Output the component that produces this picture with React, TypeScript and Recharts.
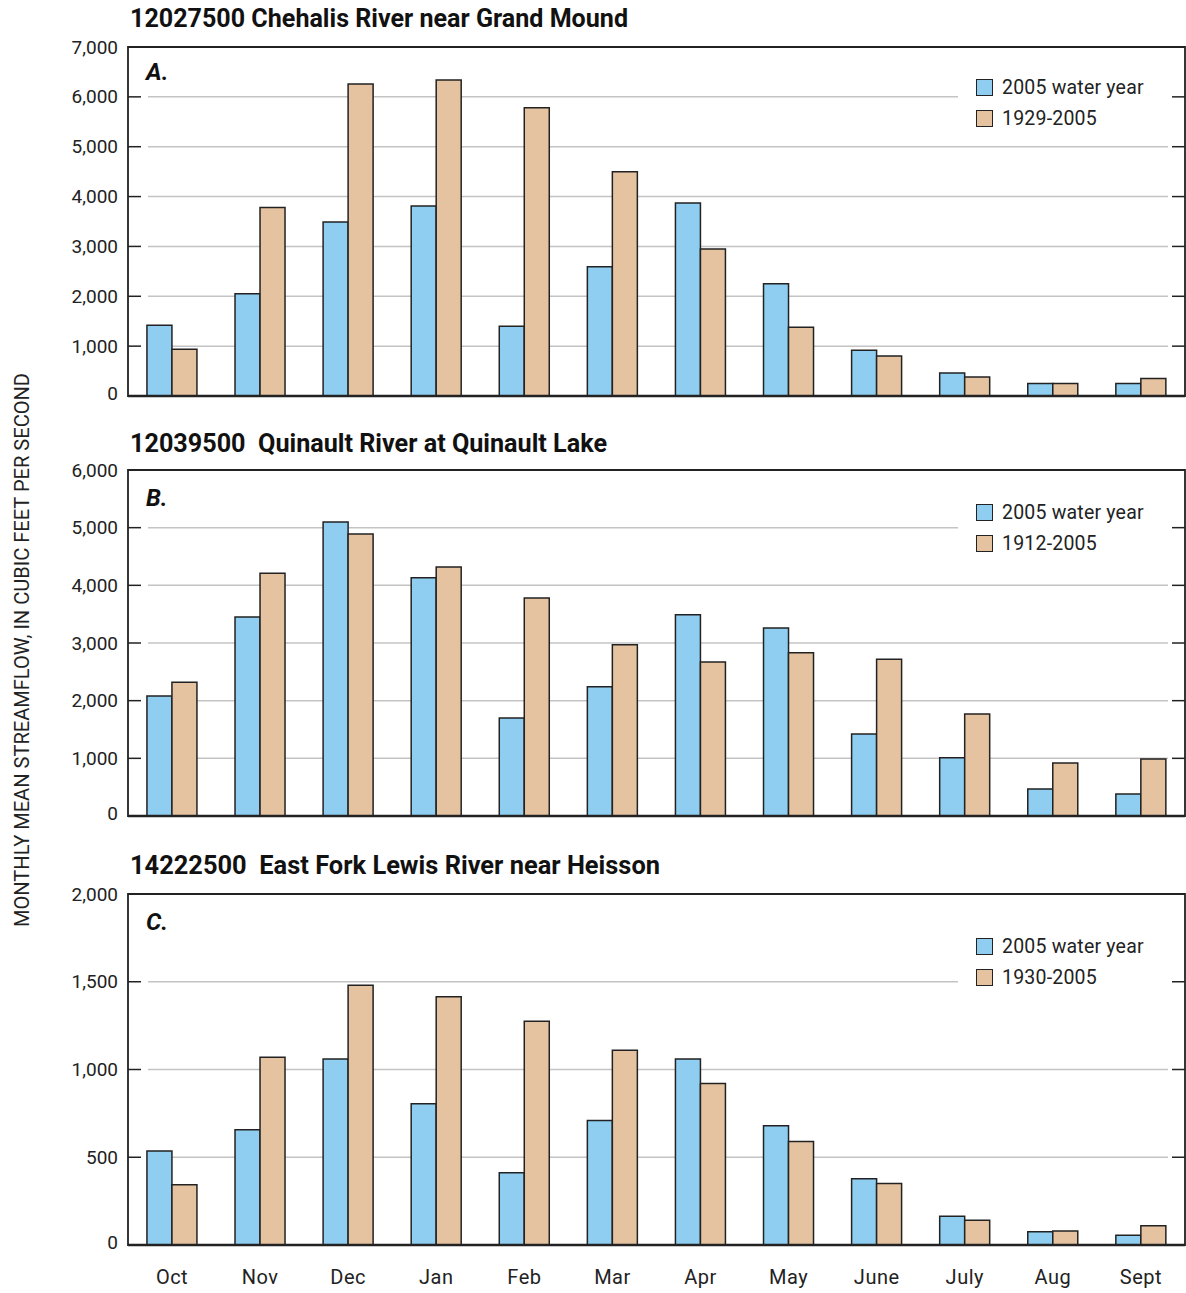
import React from 'react';
import {
  BarChart, Bar, XAxis, YAxis, CartesianGrid, Legend, ReferenceArea, ReferenceLine,
} from 'recharts';

const FONT = 'Roboto, "Liberation Sans", sans-serif';
const BLUE = '#8fcef1';
const TAN = '#e5c3a0';
const INK = '#222';

const months = ['Oct', 'Nov', 'Dec', 'Jan', 'Feb', 'Mar', 'Apr', 'May', 'June', 'July', 'Aug', 'Sept'];

const chehalis2005 = [1420, 2050, 3490, 3810, 1400, 2590, 3870, 2250, 920, 460, 250, 250];
const chehalisMean = [940, 3780, 6260, 6340, 5780, 4500, 2950, 1380, 800, 380, 250, 350];
const chehalisTicks = [0, 1000, 2000, 3000, 4000, 5000, 6000, 7000];

const quinault2005 = [2080, 3450, 5100, 4130, 1700, 2240, 3490, 3260, 1420, 1010, 470, 380];
const quinaultMean = [2320, 4210, 4890, 4320, 3780, 2970, 2670, 2830, 2720, 1770, 920, 990];
const quinaultTicks = [0, 1000, 2000, 3000, 4000, 5000, 6000];

const lewis2005 = [535, 656, 1060, 805, 412, 710, 1060, 680, 378, 164, 76, 55];
const lewisMean = [344, 1070, 1480, 1415, 1275, 1110, 920, 590, 350, 141, 80, 109];
const lewisTicks = [0, 500, 1000, 1500, 2000];

const SERIES_NAME = '2005 water year';

const toRows = (a: number[], b: number[]) => months.map((m, i) => ({ month: m, a: a[i], b: b[i] }));

const fmt = (v: number) => v.toLocaleString('en-US');

// tick label plus the short inward ticks on both sides of the box
const makeTick = (max: number) => (props: any) => {
  const { x, y, payload } = props;
  const left = x + 10;
  const v = payload.value;
  const inner = v !== 0 && v !== max;
  return (
    <g>
      <text x={x} y={v === 0 ? y - 3 : y} textAnchor="end" dominantBaseline="central" fontSize={19} fill={INK} fontFamily={FONT}>
        {fmt(v)}
      </text>
      {inner && <line x1={left} x2={left + 13} y1={y} y2={y} stroke={INK} strokeWidth={1.5} />}
      {inner && <line x1={1172} x2={1185} y1={y} y2={y} stroke={INK} strokeWidth={1.5} />}
    </g>
  );
};

const gridLine = (p: any) => (
  <line key={p.key} x1={p.x1 + 20} x2={p.x2 - 17} y1={p.y1} y2={p.y2} stroke="#c4c4c4" strokeWidth={1.5} />
);

const legendContent = (props: any) => {
  const items = [...props.payload].sort((a: any, b: any) => (a.value === SERIES_NAME ? -1 : b.value === SERIES_NAME ? 1 : 0));
  return (
    <div style={{ fontFamily: FONT, fontSize: 19.5, color: INK, letterSpacing: 0.2 }}>
      {items.map((e: any) => (
        <div key={e.value} style={{ display: 'flex', alignItems: 'center', height: 31 }}>
          <span style={{ width: 15, height: 15, background: e.color, border: `1.5px solid ${INK}`, marginRight: 9 }} />
          <span>{e.value}</span>
        </div>
      ))}
    </div>
  );
};

interface PanelProps {
  top: number; height: number; mt: number; mb: number;
  s1: number[]; s2: number[]; ticks: number[]; period: string;
  legendY: number; showX: boolean;
}

function Panel(p: PanelProps) {
  const max = p.ticks[p.ticks.length - 1];
  return (
    <div style={{ position: 'absolute', left: 0, top: p.top }}>
      <BarChart width={1186} height={p.height} data={toRows(p.s1, p.s2)}
        margin={{ top: p.mt, right: 1, left: 0, bottom: p.mb }} barCategoryGap="21.5%" barGap={0}>
        <CartesianGrid vertical={false} horizontal={gridLine} />
        <XAxis dataKey="month" hide={!p.showX} height={48} tickSize={0} tickMargin={25} axisLine={false}
          tickLine={false} tick={{ fontSize: 20, fill: INK, fontFamily: FONT, letterSpacing: 0.5 }} interval={0} />
        <YAxis width={128} domain={[0, max]} ticks={p.ticks} tickSize={0} tickMargin={10}
          axisLine={false} tickLine={false} tick={makeTick(max)} interval={0} />
        <Bar dataKey="a" name={SERIES_NAME} fill={BLUE} stroke={INK} strokeWidth={1.5} isAnimationActive={false} />
        <Bar dataKey="b" name={p.period} fill={TAN} stroke={INK} strokeWidth={1.5} isAnimationActive={false} />
        <ReferenceArea y1={0} y2={max} fill="none" stroke={INK} strokeWidth={1.8} />
        <ReferenceLine y={0} stroke={INK} strokeWidth={2.5} />
        <Legend layout="vertical" align="center" verticalAlign="middle" content={legendContent}
          wrapperStyle={{ left: 958, top: p.legendY, width: 210, paddingLeft: 18, boxSizing: 'border-box', background: '#fff' }} />
      </BarChart>
    </div>
  );
}

const titles = [
  { text: '12027500 Chehalis River near Grand Mound', y: 18, w: 498 },
  { text: '12039500  Quinault River at Quinault Lake', y: 443, w: 477 },
  { text: '14222500  East Fork Lewis River near Heisson', y: 865, w: 530 },
];
const letters = [
  { text: 'A.', y: 72 },
  { text: 'B.', y: 498 },
  { text: 'C.', y: 922 },
];

export default function App() {
  return (
    <div style={{ position: 'absolute', left: 0, top: 0, width: 1186, height: 1293, background: '#fff', overflow: 'hidden' }}>
      <Panel top={0} height={420} mt={47} mb={24} s1={chehalis2005} s2={chehalisMean} ticks={chehalisTicks}
        period="1929-2005" legendY={72} showX={false} />
      <Panel top={420} height={420} mt={50} mb={24} s1={quinault2005} s2={quinaultMean} ticks={quinaultTicks}
        period="1912-2005" legendY={77} showX={false} />
      <Panel top={840} height={453} mt={54} mb={0} s1={lewis2005} s2={lewisMean} ticks={lewisTicks}
        period="1930-2005" legendY={91} showX={true} />
      <svg width={1186} height={1293} style={{ position: 'absolute', left: 0, top: 0, pointerEvents: 'none' }}>
        {titles.map(t => (
          <text key={t.text} x={130} y={t.y} dominantBaseline="central" fontFamily={FONT} fontWeight="bold"
            fontSize={25} fill="#111" textLength={t.w} lengthAdjust="spacingAndGlyphs" style={{ whiteSpace: 'pre' }}>
            {t.text}
          </text>
        ))}
        {letters.map(l => (
          <text key={l.text} x={146} y={l.y} dominantBaseline="central" fontFamily={FONT} fontWeight="bold"
            fontStyle="italic" fontSize={24} fill="#111">
            {l.text}
          </text>
        ))}
        <text x={22} y={650} transform="rotate(-90 22 650)" textAnchor="middle" dominantBaseline="central"
          fontFamily={FONT} fontSize={20} fill={INK} textLength={554} lengthAdjust="spacingAndGlyphs">
          MONTHLY MEAN STREAMFLOW, IN CUBIC FEET PER SECOND
        </text>
      </svg>
    </div>
  );
}
